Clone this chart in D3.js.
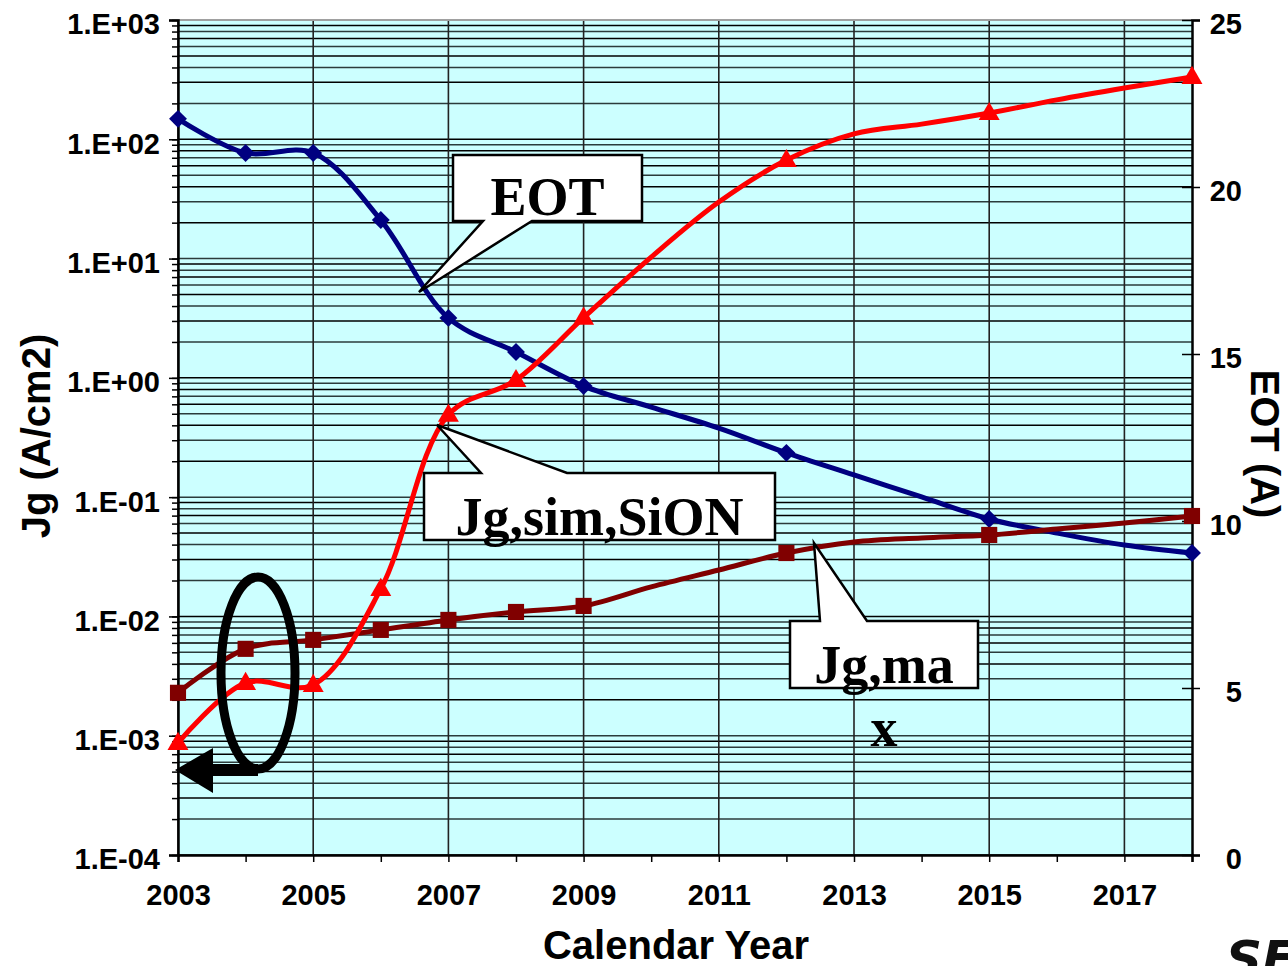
<!DOCTYPE html>
<html>
<head>
<meta charset="utf-8">
<script src="https://cdn.jsdelivr.net/npm/d3@7"></script>
<style>
    body { margin: 0; background: #ffffff; }
    svg { display: block; }
    .tick text { font-family: "Liberation Sans", Arial, sans-serif; font-weight: bold; font-size: 29px; fill: #000; }
    .title { font-family: "Liberation Sans", Arial, sans-serif; font-weight: bold; font-size: 40px; fill: #000; }
    .callout { font-family: "Liberation Serif", "Times New Roman", serif; font-weight: bold; font-size: 54px; fill: #000; }
</style>
</head>
<body>
<div id="chart"></div>
<script>
// chart data
const years = [2003, 2004, 2005, 2006, 2007, 2008, 2009, 2010, 2011, 2012, 2013, 2014, 2015, 2016, 2017, 2018];
const markerYears = [2003, 2004, 2005, 2006, 2007, 2008, 2009, 2012, 2015, 2018];
const labelYears = [2003, 2005, 2007, 2009, 2011, 2013, 2015, 2017];

// Jg,sim,SiON (A/cm2), left log axis
const jgSimSiON = [8.7e-4, 2.77e-3, 2.67e-3, 0.017, 0.49, 0.96, 3.2, 10.3, 29.8, 67, 111, 134, 166, 214, 269, 333];
// Jg,max (A/cm2), left log axis
const jgMax = [2.29e-3, 5.35e-3, 6.36e-3, 7.71e-3, 9.35e-3, 0.0109, 0.01225, 0.0177, 0.0245, 0.034, 0.0421, 0.0455, 0.0482, 0.054, 0.0608, 0.0695];
// EOT (A), right axis
const eot = [22.04, 21.02, 21.02, 19.01, 16.08, 15.06, 14.04, 13.41, 12.78, 12.04, 11.38, 10.72, 10.06, 9.64, 9.28, 9.04];

const jgTicks = [1e-4, 1e-3, 1e-2, 1e-1, 1e0, 1e1, 1e2, 1e3];
const jgTickLabels = ['1.E-04', '1.E-03', '1.E-02', '1.E-01', '1.E+00', '1.E+01', '1.E+02', '1.E+03'];
const eotTicks = [0, 5, 10, 15, 20, 25];

const width = 1288;
const height = 966;
const plotLeft = 178, plotRight = 1192, plotTop = 20, plotBottom = 855;

const svg = d3.select('#chart').append('svg')
    .attr('width', width)
    .attr('height', height);

const x = d3.scaleLinear().domain([2003, 2018]).range([plotLeft, plotRight]);
const y = d3.scaleLog().domain([1e-4, 1e3]).range([plotBottom, plotTop]);
const y2 = d3.scaleLinear().domain([0, 25]).range([plotBottom, plotTop]);

// plot background
svg.append('rect')
    .attr('x', plotLeft).attr('y', plotTop)
    .attr('width', plotRight - plotLeft).attr('height', plotBottom - plotTop)
    .attr('fill', '#ccffff');

// horizontal grid on every log tick
svg.append('g')
    .selectAll('line')
    .data(y.ticks())
    .enter().append('line')
    .attr('x1', plotLeft).attr('x2', plotRight)
    .attr('y1', d => y(d)).attr('y2', d => y(d))
    .attr('stroke', (d, i) => i % 2 ? '#2b3b3b' : '#000')
    .attr('stroke-width', 1.5);

// vertical grid on labelled years
svg.append('g')
    .selectAll('line')
    .data(labelYears)
    .enter().append('line')
    .attr('x1', d => x(d)).attr('x2', d => x(d))
    .attr('y1', plotTop).attr('y2', plotBottom)
    .attr('stroke', '#222')
    .attr('stroke-width', 1.6);

// top border
svg.append('line')
    .attr('x1', plotLeft).attr('x2', plotRight)
    .attr('y1', plotTop).attr('y2', plotTop)
    .attr('stroke', '#a0a0a0')
    .attr('stroke-width', 2);

// left axis: minor ticks then major ticks with labels
svg.append('g')
    .attr('transform', `translate(${plotLeft},0)`)
    .call(d3.axisLeft(y).tickValues(y.ticks()).tickSize(6).tickFormat(''))
    .call(g => g.select('.domain').remove())
    .call(g => g.selectAll('line').attr('stroke', '#000').attr('stroke-width', 1.5));

svg.append('g')
    .attr('transform', `translate(${plotLeft},0)`)
    .call(d3.axisLeft(y).tickValues(jgTicks).tickSize(9).tickPadding(9)
        .tickFormat((d, i) => jgTickLabels[i]))
    .call(g => g.select('.domain').attr('stroke', '#000').attr('stroke-width', 2.5))
    .call(g => g.selectAll('line').attr('stroke', '#000').attr('stroke-width', 1.5))
    .call(g => g.selectAll('text').attr('dy', '0.48em'));

// right axis
svg.append('g')
    .attr('transform', `translate(${plotRight},0)`)
    .call(d3.axisRight(y2).tickValues(eotTicks).tickSize(8).tickFormat(d3.format('d')))
    .call(g => g.select('.domain').attr('stroke', '#000').attr('stroke-width', 2.5))
    .call(g => g.selectAll('line').attr('x1', -10).attr('stroke', '#000').attr('stroke-width', 1.5))
    .call(g => g.selectAll('text').attr('x', 50).attr('text-anchor', 'end').attr('dy', '0.48em'));

// bottom axis, a tick every year, a label every second year
svg.append('g')
    .attr('transform', `translate(0,${plotBottom})`)
    .call(d3.axisBottom(x).tickValues(years).tickSize(7)
        .tickFormat(d => labelYears.includes(d) ? String(d) : ''))
    .call(g => g.select('.domain').attr('stroke', '#000').attr('stroke-width', 2.5))
    .call(g => g.selectAll('line').attr('stroke', '#000').attr('stroke-width', 1.5))
    .call(g => g.selectAll('text').attr('y', 50).attr('dy', 0));

// series
const series = [
    { name: 'EOT', values: eot, scale: y2, color: '#000080', marker: d3.symbolSquare, size: 160, rotate: 45 },
    { name: 'Jg,max', values: jgMax, scale: y, color: '#800000', marker: d3.symbolSquare, size: 260, rotate: 0 },
    { name: 'Jg,sim,SiON', values: jgSimSiON, scale: y, color: '#ff0000', marker: d3.symbolTriangle, size: 190, rotate: 0 }
];

series.forEach(s => {
    const pts = years.map((yr, i) => ({ year: yr, value: s.values[i] }));

    const line = d3.line()
        .x(d => x(d.year))
        .y(d => s.scale(d.value))
        .curve(d3.curveCatmullRom.alpha(0.5));

    svg.append('path')
        .datum(pts)
        .attr('fill', 'none')
        .attr('stroke', s.color)
        .attr('stroke-width', 5)
        .attr('stroke-linejoin', 'round')
        .attr('d', line);

    svg.append('g')
        .selectAll('path')
        .data(pts.filter(d => markerYears.includes(d.year)))
        .enter().append('path')
        .attr('transform', d => `translate(${x(d.year)},${s.scale(d.value) + (s.marker === d3.symbolTriangle ? 1 : 0)}) rotate(${s.rotate})`)
        .attr('d', d3.symbol().type(s.marker).size(s.size))
        .attr('fill', s.color);
});

// callout boxes
function callout(box, tip, base, edge, label, textY) {
    const [x0, y0, x1, y1] = box;
    let pts;
    if (edge === 'bottom') {
        pts = [[x0, y0], [x1, y0], [x1, y1], [base[1], y1], tip, [base[0], y1], [x0, y1]];
    } else {
        pts = [[x0, y0], [base[0], y0], tip, [base[1], y0], [x1, y0], [x1, y1], [x0, y1]];
    }
    svg.append('path')
        .attr('d', 'M' + pts.map(p => p.join(',')).join('L') + 'Z')
        .attr('fill', '#fff')
        .attr('stroke', '#000')
        .attr('stroke-width', 2.5)
        .attr('stroke-linejoin', 'miter');
    svg.append('text')
        .attr('class', 'callout')
        .attr('x', (x0 + x1) / 2)
        .attr('y', textY)
        .attr('text-anchor', 'middle')
        .text(label);
}

callout([453, 155, 642, 221], [419, 292], [483, 532], 'bottom', 'EOT', 215);
callout([424, 473, 775, 540], [437, 425], [481, 567], 'top', 'Jg,sim,SiON', 535);
callout([790, 621, 978, 688], [814, 543], [820, 867], 'top', 'Jg,ma', 683);

svg.append('text')
    .attr('class', 'callout')
    .attr('x', 884)
    .attr('y', 746)
    .attr('text-anchor', 'middle')
    .text('x');

// ellipse and arrow pointing to the left axis
svg.append('ellipse')
    .attr('cx', 258).attr('cy', 673)
    .attr('rx', 37).attr('ry', 96)
    .attr('fill', 'none')
    .attr('stroke', '#000')
    .attr('stroke-width', 9);

svg.append('path')
    .attr('d', 'M258,764 L213,764 L213,748 L175,770 L213,793 L213,776 L258,776 Z')
    .attr('fill', '#000');

// axis titles
svg.append('text')
    .attr('class', 'title')
    .attr('transform', 'translate(50,436) rotate(-90)')
    .attr('text-anchor', 'middle')
    .text('Jg (A/cm2)');

svg.append('text')
    .attr('class', 'title')
    .attr('transform', 'translate(1251,444) rotate(90)')
    .attr('text-anchor', 'middle')
    .text('EOT (A)');

svg.append('text')
    .attr('class', 'title')
    .attr('x', 676)
    .attr('y', 959)
    .attr('text-anchor', 'middle')
    .text('Calendar Year');

// logo fragment in the corner
svg.append('text')
    .attr('x', 1226)
    .attr('y', 976)
    .attr('font-family', '"DejaVu Sans", sans-serif')
    .attr('font-weight', 'bold')
    .attr('font-style', 'italic')
    .attr('font-size', 50)
    .attr('fill', '#111')
    .text('SE');
</script>
</body>
</html>
